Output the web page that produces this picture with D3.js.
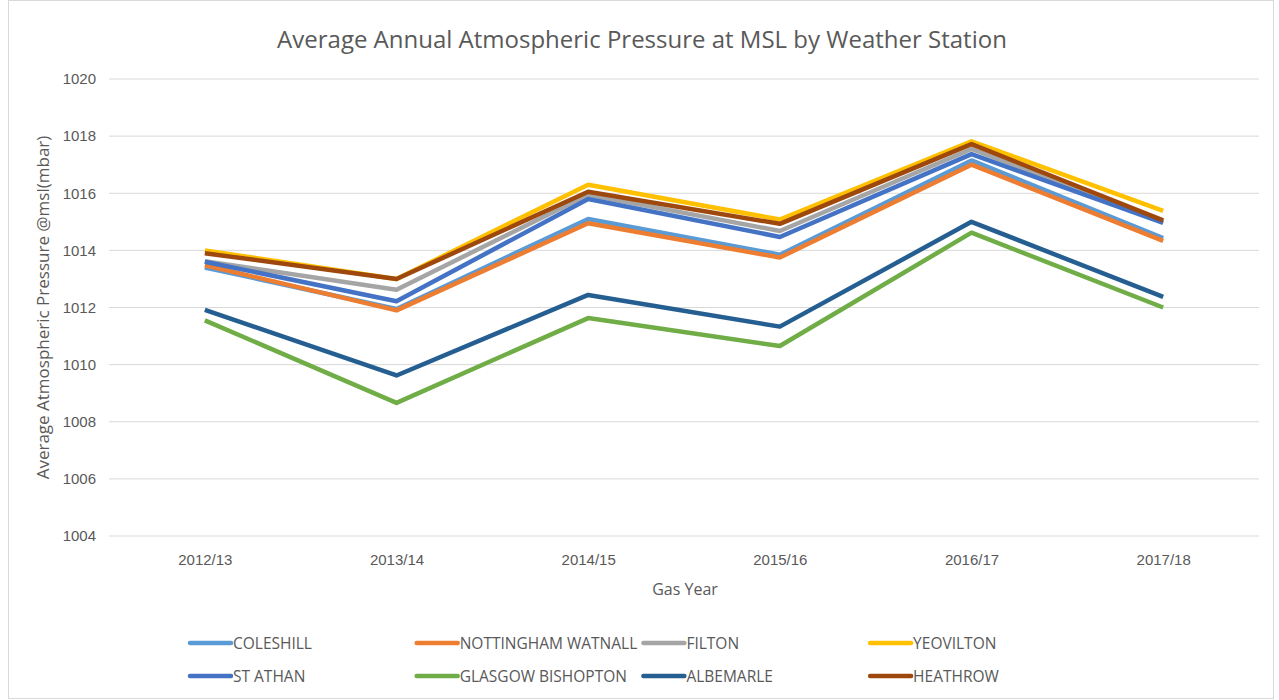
<!DOCTYPE html>
<html lang="en">
<head>
<meta charset="utf-8">
<title>Average Annual Atmospheric Pressure at MSL</title>
<script src="https://cdnjs.cloudflare.com/ajax/libs/d3/7.8.5/d3.min.js"></script>
<style>
  body { margin: 0; background: #fff; }
  svg { display: block; font-family: "Open Sans", "Noto Sans", sans-serif; }
  .grid line { stroke: #d9d9d9; stroke-width: 1; }
  .tick text { fill: #595959; }
</style>
</head>
<body>
<div id="chart"></div>
<script>
// data
const years = ["2012/13", "2013/14", "2014/15", "2015/16", "2016/17", "2017/18"];
const yTicks = [1004, 1006, 1008, 1010, 1012, 1014, 1016, 1018, 1020];

const stations = ["COLESHILL", "NOTTINGHAM WATNALL", "FILTON", "YEOVILTON",
                  "ST ATHAN", "GLASGOW BISHOPTON", "ALBEMARLE", "HEATHROW"];
const colours = ["#5B9BD5", "#ED7D31", "#A5A5A5", "#FFC000",
                 "#4472C4", "#70AD47", "#255E91", "#9E480E"];

const coleshill  = [1013.4, 1011.95, 1015.1, 1013.85, 1017.15, 1014.43];
const nottingham = [1013.48, 1011.9, 1014.95, 1013.75, 1017.0, 1014.33];
const filton     = [1013.62, 1012.62, 1015.95, 1014.68, 1017.55, 1015.0];
const yeovilton  = [1014.0, 1013.0, 1016.3, 1015.08, 1017.82, 1015.38];
const stAthan    = [1013.6, 1012.22, 1015.8, 1014.47, 1017.37, 1014.96];
const glasgow    = [1011.55, 1008.66, 1011.63, 1010.65, 1014.62, 1012.0];
const albemarle  = [1011.92, 1009.62, 1012.44, 1011.33, 1015.0, 1012.37];
const heathrow   = [1013.9, 1013.0, 1016.05, 1014.93, 1017.72, 1015.05];

const seriesValues = [coleshill, nottingham, filton, yeovilton,
                      stAthan, glasgow, albemarle, heathrow];

const W = 1279, H = 700;
const plotL = 109, plotR = 1259, plotT = 79, plotB = 536;

const svg = d3.select("#chart").append("svg")
  .attr("width", W).attr("height", H);

// outer frame
svg.append("rect")
  .attr("x", 8.5).attr("y", 0.5)
  .attr("width", 1265).attr("height", 698)
  .attr("fill", "none").attr("stroke", "#d9d9d9");

const x = d3.scalePoint().domain(years).range([plotL, plotR]).padding(0.5);
const y = d3.scaleLinear().domain([1004, 1020]).range([plotB, plotT]);

// horizontal grid
svg.append("g").attr("class", "grid")
  .selectAll("line").data(yTicks).enter().append("line")
    .attr("x1", plotL).attr("x2", plotR)
    .attr("y1", d => y(d)).attr("y2", d => y(d));

// y axis labels
const yAxis = d3.axisLeft(y).tickValues(yTicks).tickFormat(d3.format("d"))
  .tickSize(0).tickPadding(13);
svg.append("g")
  .attr("transform", `translate(${plotL},0)`)
  .call(yAxis)
  .call(g => g.select(".domain").remove())
  .selectAll("text").attr("font-size", 15);

// x axis labels
const xAxis = d3.axisBottom(x).tickSize(0).tickPadding(18);
svg.append("g")
  .attr("transform", `translate(0,${plotB})`)
  .call(xAxis)
  .call(g => g.select(".domain").remove())
  .selectAll("text").attr("font-size", 15);

// lines
const line = d3.line().x((d, i) => x(years[i])).y(d => y(d));
svg.append("g").selectAll("path")
  .data(seriesValues).enter().append("path")
    .attr("d", line)
    .attr("fill", "none")
    .attr("stroke", (d, i) => colours[i])
    .attr("stroke-width", 4.5)
    .attr("stroke-linejoin", "round");

// title
svg.append("text")
  .attr("x", 642).attr("y", 48)
  .attr("text-anchor", "middle")
  .attr("font-size", 24)
  .attr("fill", "#595959")
  .text("Average Annual Atmospheric Pressure at MSL by Weather Station");

// axis titles
svg.append("text")
  .attr("x", 685).attr("y", 595)
  .attr("text-anchor", "middle")
  .attr("font-size", 16)
  .attr("fill", "#595959")
  .text("Gas Year");

svg.append("text")
  .attr("transform", `translate(49,${(plotT + plotB) / 2}) rotate(-90)`)
  .attr("text-anchor", "middle")
  .attr("font-size", 17)
  .attr("fill", "#595959")
  .text("Average Atmospheric Pressure @msl(mbar)");

// legend, 4 columns x 2 rows
const legend = svg.append("g").selectAll("g")
  .data(stations).enter().append("g")
    .attr("transform", (d, i) => `translate(${190 + (i % 4) * 226.7},${643 + Math.floor(i / 4) * 33})`);

legend.append("line")
  .attr("x1", 0).attr("x2", 41)
  .attr("stroke", (d, i) => colours[i])
  .attr("stroke-width", 4.5)
  .attr("stroke-linecap", "round");

legend.append("text")
  .attr("x", 43).attr("y", 5.5)
  .attr("font-size", 15.5)
  .attr("fill", "#595959")
  .text(d => d);
</script>
</body>
</html>
